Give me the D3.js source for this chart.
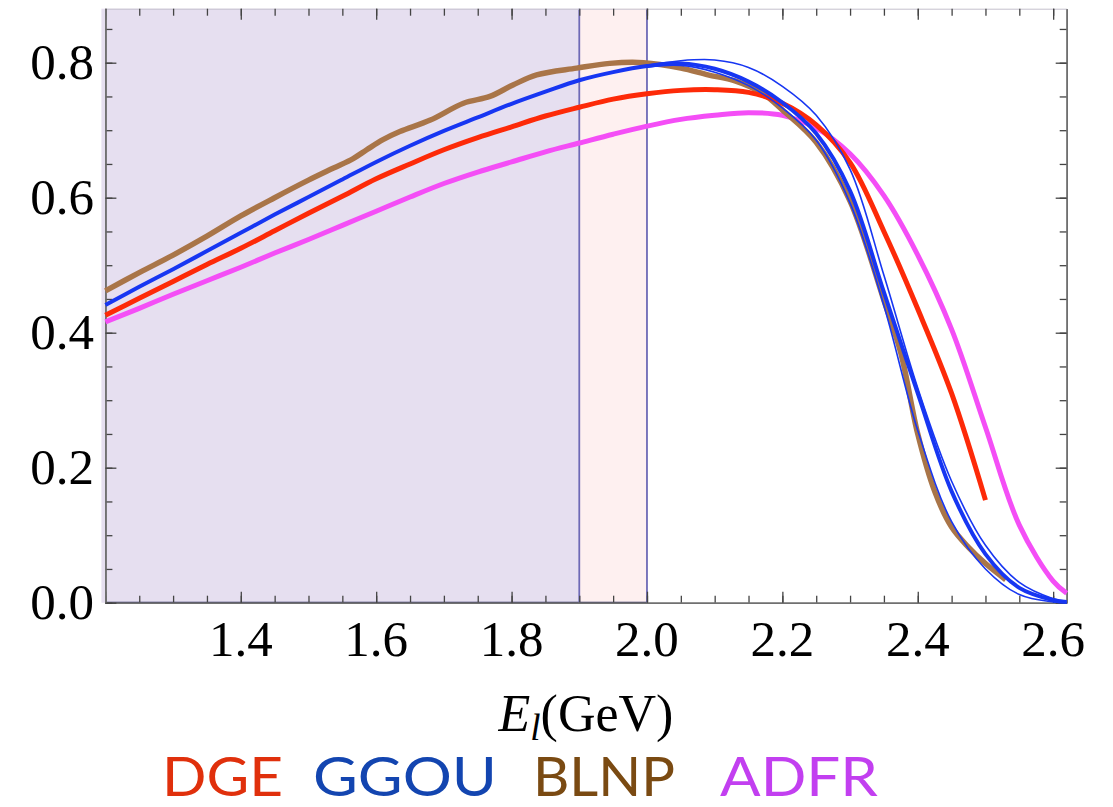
<!DOCTYPE html>
<html><head><meta charset="utf-8">
<script src="https://cdn.jsdelivr.net/npm/d3@7"></script>
<style>body{margin:0;background:#fff}svg{display:block}</style>
</head><body>
<svg id="c" width="1113" height="807"></svg>
<script>
// ---- data ----
const dgeX = [1.2,1.25,1.3,1.35,1.4,1.45,1.5,1.55,1.6,1.65,1.7,1.75,1.8,1.85,1.9,1.95,2.0,2.05,2.1,2.15,2.2,2.25,2.3,2.35,2.4,2.45,2.5];
const dgeY = [.426,.451,.476,.501,.525,.551,.577,.602,.628,.650,.671,.689,.705,.721,.734,.746,.754,.759,.760,.756,.740,.708,.652,.550,.435,.310,.152];

const ggouX = [1.2,1.25,1.3,1.35,1.4,1.45,1.5,1.55,1.6,1.65,1.7,1.75,1.8,1.85,1.9,1.95,2.0,2.05,2.1,2.15,2.2,2.25,2.3,2.35,2.4,2.45,2.5,2.55,2.6,2.62];
const ggouY = [.441,.468,.494,.521,.548,.575,.601,.627,.653,.677,.699,.719,.739,.757,.774,.786,.795,.799,.791,.772,.741,.695,.610,.460,.310,.165,.072,.022,.004,.001];
const ggouBandX = [2.0,2.05,2.1,2.15,2.2,2.25,2.3,2.35,2.4,2.45,2.5,2.55,2.6,2.62];
const ggouUpperY = [.796,.803,.804,.793,.765,.722,.642,.485,.318,.180,.085,.030,.006,.002];
const ggouLowerY = [.794,.796,.786,.766,.733,.685,.592,.440,.255,.120,.050,.012,.001,.0];

const blnpX = [1.2,1.25,1.3,1.35,1.4,1.45,1.5,1.537,1.566,1.586,1.61,1.635,1.68,1.729,1.768,1.802,1.837,1.896,1.945,1.995,2.05,2.09,2.13,2.17,2.2,2.25,2.3,2.35,2.375,2.4,2.425,2.45,2.475,2.5,2.53];
const blnpY = [.462,.489,.515,.543,.573,.600,.626,.644,.658,.671,.686,.698,.715,.740,.750,.767,.782,.792,.799,.800,.792,.782,.773,.755,.730,.682,.595,.448,.370,.250,.165,.112,.082,.058,.034];

const adfrX = [1.2,1.25,1.3,1.35,1.4,1.45,1.5,1.55,1.6,1.65,1.7,1.75,1.8,1.85,1.9,1.95,2.0,2.05,2.1,2.15,2.2,2.25,2.3,2.35,2.4,2.45,2.5,2.55,2.6,2.62];
const adfrY = [.416,.436,.457,.477,.497,.518,.538,.559,.580,.601,.621,.638,.653,.668,.681,.694,.706,.716,.722,.726,.722,.703,.665,.603,.515,.405,.260,.115,.032,.014];

const xMajorTicks = [1.2,1.4,1.6,1.8,2.0,2.2,2.4,2.6];
const xTickLabels = ["1.4","1.6","1.8","2.0","2.2","2.4","2.6"];
const yMajorTicks = [0,0.2,0.4,0.6,0.8];
const yTickLabels = ["0.0","0.2","0.4","0.6","0.8"];
const bands = [[1.2,1.9,"#e6dff0"],[1.9,2.0,"#fef0f0"]];
const bandLines = [1.9,2.0];
const legendNames = ["DGE","GGOU","BLNP","ADFR"];
const legendColors = ["#e0300c","#1345b0","#7a4a12","#c23ff0"];

// ---- layout ----
const L=105.4, R=1066.7, T=8.7, B=602.7;
const x = d3.scaleLinear().domain([1.2,2.62]).range([L,R]);
const y = d3.scaleLinear().domain([0,0.88]).range([B,T]);
const svg = d3.select("#c");

// bands
svg.selectAll("rect.band").data(bands).join("rect")
  .attr("x",d=>x(d[0])-(d[0]===1.2?4:0)).attr("width",d=>x(d[1])-x(d[0])+(d[0]===1.2?4:0))
  .attr("y",T).attr("height",B-T).attr("fill",d=>d[2]);
svg.append("line").attr("x1",x(1.2)).attr("x2",x(2.0)).attr("y1",B).attr("y2",B)
  .attr("stroke","#2c2c62").attr("stroke-width",2);
svg.selectAll("line.bl").data(bandLines).join("line")
  .attr("x1",d=>x(d)).attr("x2",d=>x(d)).attr("y1",T).attr("y2",B)
  .attr("stroke","#6e6ab6").attr("stroke-width",1.8);

// axes
const minorX = d3.range(1.2,2.62,0.05).map(v=>+v.toFixed(2));
const minorY = d3.range(0,0.88,0.05).map(v=>+v.toFixed(2));
function axisStyle(g){ g.selectAll(".domain").attr("stroke","#707070").attr("stroke-width",1.6);
  g.selectAll(".tick line").attr("stroke","#444").attr("stroke-width",1.3); g.selectAll("text").remove(); }
svg.append("g").attr("transform",`translate(0,${B})`).call(d3.axisBottom(x).tickValues(minorX).tickSize(-7).tickSizeOuter(0)).call(axisStyle);
svg.append("g").attr("transform",`translate(0,${B})`).call(d3.axisBottom(x).tickValues(xMajorTicks).tickSize(-11).tickSizeOuter(0)).call(axisStyle);
svg.append("g").attr("transform",`translate(0,${T})`).call(d3.axisTop(x).tickValues(minorX).tickSize(-7).tickSizeOuter(0)).call(axisStyle)
  .select(".domain").attr("stroke","#c4c0cc").attr("stroke-width",1);
svg.append("g").attr("transform",`translate(0,${T})`).call(d3.axisTop(x).tickValues(xMajorTicks).tickSize(-11).tickSizeOuter(0)).call(axisStyle)
  .select(".domain").attr("stroke","none");
svg.append("g").attr("transform",`translate(${L},0)`).call(d3.axisLeft(y).tickValues(minorY).tickSize(-7).tickSizeOuter(0)).call(axisStyle);
svg.append("g").attr("transform",`translate(${L},0)`).call(d3.axisLeft(y).tickValues(yMajorTicks).tickSize(-11).tickSizeOuter(0)).call(axisStyle);
svg.append("g").attr("transform",`translate(${R},0)`).call(d3.axisRight(y).tickValues(minorY).tickSize(-7).tickSizeOuter(0)).call(axisStyle);
svg.append("g").attr("transform",`translate(${R},0)`).call(d3.axisRight(y).tickValues(yMajorTicks).tickSize(-11).tickSizeOuter(0)).call(axisStyle);

// tick labels
const serif = "'Liberation Serif','Times New Roman',serif";
svg.selectAll("text.xl").data(xTickLabels).join("text")
  .attr("x",d=>x(+d)).attr("y",656).attr("text-anchor","middle")
  .attr("font-family",serif).attr("font-size",51).text(d=>d);
svg.selectAll("text.yl").data(yTickLabels).join("text")
  .attr("x",94).attr("y",d=>y(+d)+16).attr("text-anchor","end")
  .attr("font-family",serif).attr("font-size",51).text(d=>d);

// axis title
const at = svg.append("text").attr("x",586).attr("y",731).attr("text-anchor","middle")
  .attr("font-family",serif).attr("font-size",52);
at.append("tspan").attr("font-style","italic").text("E");
at.append("tspan").attr("font-style","italic").attr("font-size",37).attr("dy",9).text("l");
at.append("tspan").attr("dy",-9).text("(GeV)");

// curves
const line = d3.line().x(d=>x(d[0])).y(d=>y(d[1])).curve(d3.curveCatmullRom.alpha(0.5));
const zip = (a,b)=>a.map((v,i)=>[v,b[i]]);
const series = [
  [adfrX,adfrY,"#f44ef6",5],
  [blnpX,blnpY,"#a97548",5.5],
  [dgeX,dgeY,"#fd2a08",5],
  [ggouX,ggouY,"#1736f2",4],
  [ggouBandX,ggouUpperY,"#1736f2",1.6],
  [ggouBandX,ggouLowerY,"#1736f2",1.6]
];
svg.selectAll("path.s").data(series).join("path")
  .attr("d",d=>line(zip(d[0],d[1]))).attr("fill","none")
  .attr("stroke",d=>d[2]).attr("stroke-width",d=>d[3]);

// legend
const legPos = [[162,283],[313,497],[533,675],[720,878]];
svg.selectAll("text.lg").data(legendNames).join("text")
  .attr("x",(d,i)=>legPos[i][0]).attr("y",796)
  .attr("textLength",(d,i)=>legPos[i][1]-legPos[i][0]).attr("lengthAdjust","spacingAndGlyphs")
  .attr("font-family","Lato,'Open Sans',sans-serif").attr("font-size",54)
  .attr("fill",(d,i)=>legendColors[i]).text(d=>d);
</script>
</body></html>
